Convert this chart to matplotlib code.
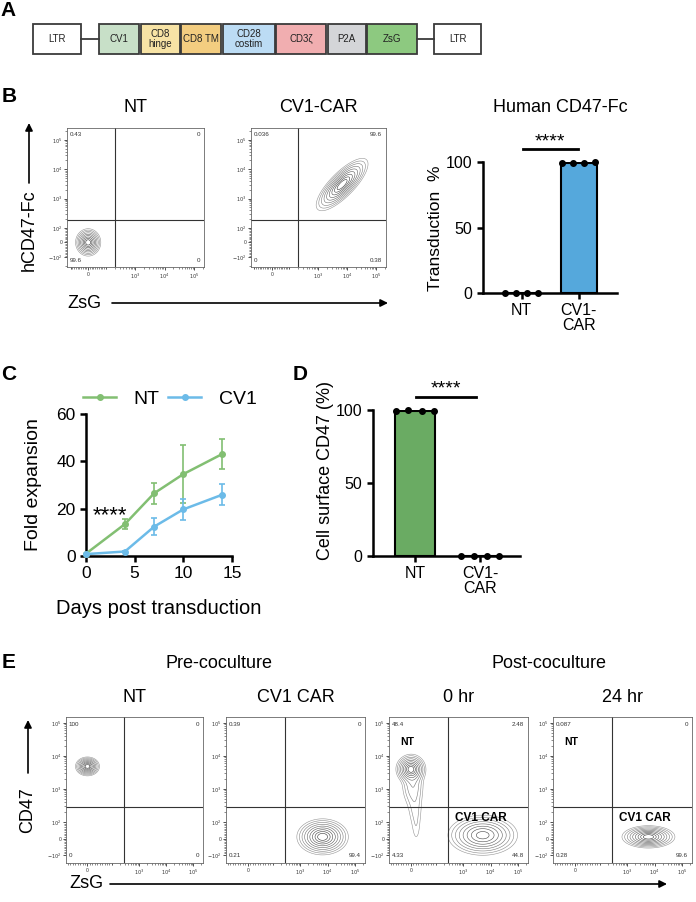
import numpy as np
import matplotlib
matplotlib.use("Agg")
import matplotlib.pyplot as plt
from matplotlib.scale import SymmetricalLogTransform
from matplotlib.patches import Rectangle
from matplotlib.lines import Line2D

plt.rcParams['font.family'] = ['Liberation Sans', 'DejaVu Sans']

# ---------------- data ----------------
construct_parts = ['LTR', 'CV1', 'CD8\nhinge', 'CD8 TM', 'CD28\ncostim', 'CD3ζ', 'P2A', 'ZsG', 'LTR']

bar_groups = ['NT', 'CV1-\nCAR']
transduction_pts = [[0.1, 0.2, 0.1, 0.2], [99.6, 99.5, 99.6, 99.7]]
cd47_pts = [[99.6, 99.7, 99.5, 99.6], [0.2, 0.1, 0.3, 0.2]]

days = [0, 4, 7, 10, 14]
nt_fold = [1.0, 13.5, 26.5, 34.6, 43.1]
nt_err = [0.0, 2.3, 4.4, 12.4, 6.3]
cv1_fold = [0.8, 1.9, 12.4, 19.7, 25.9]
cv1_err = [0.0, 0.4, 3.6, 4.4, 4.5]

flowB_titles = ['NT', 'CV1-CAR']
flowE_titles = ['NT', 'CV1 CAR', '0 hr', '24 hr']
# quadrant percentages: upper-left, upper-right, lower-left, lower-right
flowB_quads = [['0.43', '0', '99.6', '0'], ['0.036', '99.6', '0', '0.38']]
flowE_quads = [['100', '0', '0', '0'], ['0.39', '0', '0.21', '99.4'],
               ['48.4', '2.48', '4.33', '44.8'], ['0.087', '0', '0.28', '99.6']]
# populations: (x centre, y centre, x spread [decades], y spread [decades], angle, weight)
flowB_pops = [
    [(0, 0, 0.165, 0.18, 0, 1.0)],
    [(6700, 3000, 0.46, 0.16, 45, 1.0)],
]
flowE_pops = [
    [(0, 4800, 0.17, 0.11, 0, 1.0)],
    [(6600, 10, 0.36, 0.21, 0, 1.0)],
    [(0, 4000, 0.21, 0.17, 0, 1.0), (8, 1400, 0.2, 0.35, 0, 0.2),
     (18, 250, 0.15, 0.35, 0, 0.08), (22, 60, 0.1, 0.3, 0, 0.045),
     (5200, 20, 0.5, 0.24, 0, 0.9)],
    [(6000, 10, 0.37, 0.13, 0, 1.0)],
]
flow_gate_B = (200, 190)
flow_gate_E = (290, 280)

# ---------------- figure ----------------
W, H = 696, 902
fig = plt.figure(figsize=(W / 100, H / 100), dpi=100)


def px_axes(l, t, r, b):
    return fig.add_axes([l / W, 1 - b / H, (r - l) / W, (b - t) / H])


def flow(ax, xs, ys, xlim, ylim, pops, gate, quads):
    ax.set_xscale('symlog', base=10, linthresh=xs[0], linscale=xs[1])
    ax.set_yscale('symlog', base=10, linthresh=ys[0], linscale=ys[1])
    ax.set_xlim(xlim)
    ax.set_ylim(ylim)
    tx = SymmetricalLogTransform(10, xs[0], xs[1])
    ty = SymmetricalLogTransform(10, ys[0], ys[1])
    u = np.linspace(*tx.transform_non_affine(np.array(xlim, float)), 400)
    v = np.linspace(*ty.transform_non_affine(np.array(ylim, float)), 400)
    U, V = np.meshgrid(u, v)
    Z = np.zeros_like(U)
    for cx, cy, sx, sy, ang, w in pops:
        u0 = tx.transform_non_affine(np.array([cx], float))[0]
        v0 = ty.transform_non_affine(np.array([cy], float))[0]
        du = (U - u0) / xs[0]
        dv = (V - v0) / ys[0]
        a = np.deg2rad(ang)
        p = du * np.cos(a) + dv * np.sin(a)
        q = -du * np.sin(a) + dv * np.cos(a)
        Z += w * np.exp(-0.5 * ((p / sx) ** 2 + (q / sy) ** 2))
    X = tx.inverted().transform_non_affine(u)
    Y = ty.inverted().transform_non_affine(v)
    nlev = 9
    rr = np.linspace(2.6, 0.5, nlev)
    levels = Z.max() * np.exp(-0.5 * rr ** 2)
    cols = [str(c) for c in np.linspace(0.58, 0.2, nlev)]
    ax.contour(X, Y, Z, levels=levels, colors=cols, linewidths=0.4)
    ax.axvline(gate[0], color='#333333', lw=0.8)
    ax.axhline(gate[1], color='#333333', lw=0.8)
    for s in ax.spines.values():
        s.set_color('#666666')
        s.set_linewidth(0.6)
    ax.set_xticks([0, 1e3, 1e4, 1e5])
    ax.set_xticklabels(['0', '$10^3$', '$10^4$', '$10^5$'])
    ax.set_yticks([-100, 0, 100, 1e3, 1e4, 1e5])
    ax.set_yticklabels(['$-10^2$', '0', '$10^2$', '$10^3$', '$10^4$', '$10^5$'])
    minors = list(np.arange(-100, 101, 10))
    for d in [2, 3, 4, 5]:
        minors += [k * 10 ** d for k in range(1, 10)]
        minors += [-k * 10 ** d for k in range(1, 10)]
    mx = [m for m in minors if xlim[0] < m < xlim[1]]
    my = [m for m in minors if ylim[0] < m < ylim[1]]
    ax.set_xticks(mx, minor=True)
    ax.set_yticks(my, minor=True)
    ax.xaxis.set_minor_formatter(plt.NullFormatter())
    ax.yaxis.set_minor_formatter(plt.NullFormatter())
    ax.tick_params(which='major', length=2.2, width=0.6, labelsize=3.6, pad=1.2, colors='#333333')
    ax.tick_params(which='minor', length=1.2, width=0.4, colors='#333333')
    kw = dict(fontsize=4.5, color='#333333', transform=ax.transAxes)
    ax.text(0.02, 0.95, quads[0], ha='left', va='center', **kw)
    ax.text(0.97, 0.95, quads[1], ha='right', va='center', **kw)
    ax.text(0.02, 0.05, quads[2], ha='left', va='center', **kw)
    ax.text(0.97, 0.05, quads[3], ha='right', va='center', **kw)


# ---- panel B flow ----
B_boxes = [(67, 128, 204, 267), (251, 128, 386, 267)]
for i, bx in enumerate(B_boxes):
    ax = px_axes(*bx)
    flow(ax, (100, 0.54), (100, 0.45), (-132, 2.2e5), (-219, 2.57e5),
         flowB_pops[i], flow_gate_B, flowB_quads[i])

# ---- panel E flow ----
E_boxes = [(66, 717, 203, 863), (226, 717, 365, 863), (389, 717, 528, 863), (553, 717, 692, 863)]
E_axes = []
for i, bx in enumerate(E_boxes):
    ax = px_axes(*bx)
    flow(ax, (100, 0.81), (100, 0.45), (-88, 2.3e5), (-174, 1.5e5),
         flowE_pops[i], flow_gate_E, flowE_quads[i])
    E_axes.append(ax)
for ax in E_axes[2:]:
    ax.text(0.08, 0.83, 'NT', fontsize=7.5, fontweight='bold', transform=ax.transAxes, ha='left', va='center')
    ax.text(0.66, 0.31, 'CV1 CAR', fontsize=8.5, fontweight='bold', transform=ax.transAxes, ha='center', va='center')


def prism(ax):
    for s in ['top', 'right']:
        ax.spines[s].set_visible(False)
    for s in ['left', 'bottom']:
        ax.spines[s].set_linewidth(1.8)
    ax.tick_params(width=1.8, length=4.5, labelsize=11.5, pad=3)


offsets = np.array([-0.29, -0.1, 0.1, 0.29])

# ---- panel B bar ----
axb = px_axes(483, 162, 617, 293)
means_b = [np.mean(p) for p in transduction_pts]
axb.bar([0, 1], means_b, width=0.63, color=['white', '#55a8dc'], edgecolor='black', linewidth=1.5, zorder=2)
for i, pts in enumerate(transduction_pts):
    axb.plot(i + offsets, pts, 'o', color='black', ms=4, clip_on=False, zorder=5)
axb.set_xlim(-0.68, 1.67)
axb.set_ylim(0, 100)
axb.set_yticks([0, 50, 100])
axb.set_xticks([0, 1])
axb.set_xticklabels(bar_groups, fontsize=13, linespacing=1.0)
prism(axb)
axb.plot([0.03, 0.98], [110, 110], color='black', lw=2, clip_on=False)
axb.text(0.5, 111.5, '****', ha='center', va='baseline', fontsize=14, clip_on=False)

# ---- panel D bar ----
axd = px_axes(373, 410, 520, 556)
means_d = [np.mean(p) for p in cd47_pts]
axd.bar([0, 1], means_d, width=0.62, color=['#6aab63', 'white'], edgecolor='black', linewidth=1.5, zorder=2)
for i, pts in enumerate(cd47_pts):
    axd.plot(i + offsets, pts, 'o', color='black', ms=4, clip_on=False, zorder=5)
axd.set_xlim(-0.646, 1.615)
axd.set_ylim(0, 100)
axd.set_yticks([0, 50, 100])
axd.set_xticks([0, 1])
axd.set_xticklabels(bar_groups, fontsize=13, linespacing=1.0)
prism(axd)
axd.plot([0.015, 0.94], [109, 109], color='black', lw=2, clip_on=False)
axd.text(0.48, 111.5, '****', ha='center', va='baseline', fontsize=14, clip_on=False)

# ---- panel C ----
axc = px_axes(86, 414, 232, 556)
nt_col, cv_col = '#82bf72', '#6cbbe8'
axc.errorbar(days, nt_fold, yerr=nt_err, color=nt_col, lw=1.8, marker='o', ms=4,
             capsize=2.5, elinewidth=1.2, capthick=1.2, clip_on=False, zorder=3)
axc.errorbar(days, cv1_fold, yerr=cv1_err, color=cv_col, lw=1.8, marker='o', ms=4,
             capsize=2.5, elinewidth=1.2, capthick=1.2, clip_on=False, zorder=3)
axc.set_xlim(0, 15)
axc.set_ylim(0, 60)
axc.set_xticks([0, 5, 10, 15])
axc.set_yticks([0, 20, 40, 60])
prism(axc)
axc.tick_params(labelsize=12.5)
axc.text(2.47, 14.8, '****', ha='center', va='baseline', fontsize=16)
hnt = Line2D([], [], color=nt_col, lw=1.8, marker='o', ms=4)
hcv = Line2D([], [], color=cv_col, lw=1.8, marker='o', ms=4)
axc.legend([hnt, hcv], ['NT', 'CV1'], ncol=2, frameon=False, fontsize=14,
           loc='center left', bbox_to_anchor=(83 / W, 1 - 399 / H), bbox_transform=fig.transFigure,
           borderaxespad=0, borderpad=0, handlelength=1.7, handletextpad=0.9, columnspacing=0.45)

# ---------------- overlay (text, diagram, arrows) ----------------
ov = fig.add_axes([0, 0, 1, 1])
ov.set_xlim(0, W)
ov.set_ylim(H, 0)
ov.axis('off')
ov.patch.set_visible(False)

# panel A construct
part_w = [48, 40, 39, 40, 52, 50, 38, 50, 47]
part_gap = [18, 1.5, 1.5, 1.5, 1.5, 1.5, 1.5, 17]
part_col = ['white', '#c8e0c8', '#f7e3a5', '#f3cd80', '#bcdcf4', '#f1aeb0', '#d4d5d8', '#8dc980', 'white']
x0, yt, yb = 33, 24, 54
xs_parts = []
for i, (lab, w) in enumerate(zip(construct_parts, part_w)):
    xs_parts.append((x0, x0 + w))
    ov.add_patch(Rectangle((x0, yt), w, yb - yt, facecolor=part_col[i], edgecolor='#3a3a3a', lw=1.3))
    ov.text(x0 + w / 2, (yt + yb) / 2, lab, ha='center', va='center', fontsize=7, linespacing=1.05, color='#222222')
    if i < len(part_gap):
        x0 += w + part_gap[i]
ov.plot([xs_parts[0][1], xs_parts[1][0]], [39, 39], color='#3a3a3a', lw=1.3)
ov.plot([xs_parts[7][1], xs_parts[8][0]], [39, 39], color='#3a3a3a', lw=1.3)

# panel letters
for lab, (x, y) in zip('ABCDE', [(8, 11), (9, 97), (9, 375), (300, 375), (9, 662)]):
    ov.text(x, y, lab, fontsize=15, fontweight='bold', ha='center', va='center')

# B titles
ov.text(135.5, 107, flowB_titles[0], fontsize=13, ha='center', va='center')
ov.text(318, 107, flowB_titles[1], fontsize=13, ha='center', va='center')
ov.text(560, 108, 'Human CD47-Fc', fontsize=13, ha='center', va='center')
ov.text(435, 228, 'Transduction  %', fontsize=12.5, rotation=90, ha='center', va='center')

# B axis labels with arrows
ov.text(29, 230, 'hCD47-Fc', fontsize=13, rotation=90, ha='center', va='center')
ov.annotate('', xy=(29, 123), xytext=(29, 183),
            arrowprops=dict(arrowstyle='-|>', color='black', lw=1.2, mutation_scale=11, shrinkA=0, shrinkB=0))
ov.text(84, 303, 'ZsG', fontsize=13, ha='center', va='center')
ov.annotate('', xy=(388, 303), xytext=(112, 303),
            arrowprops=dict(arrowstyle='-|>', color='black', lw=1.2, mutation_scale=11, shrinkA=0, shrinkB=0))

# C labels
ov.text(33, 485, 'Fold expansion', fontsize=14, rotation=90, ha='center', va='center')
ov.text(159, 608, 'Days post transduction', fontsize=14.5, ha='center', va='center')

# D label
ov.text(326, 470, 'Cell surface CD47 (%)', fontsize=13, rotation=90, ha='center', va='center')

# E headers
ov.text(219, 663, 'Pre-coculture', fontsize=13, ha='center', va='center')
ov.text(549, 663, 'Post-coculture', fontsize=13, ha='center', va='center')
for bx, t in zip(E_boxes, flowE_titles):
    ov.text((bx[0] + bx[2]) / 2, 697, t, fontsize=13, ha='center', va='center')
ov.text(28, 810, 'CD47', fontsize=13, rotation=90, ha='center', va='center')
ov.annotate('', xy=(28, 720), xytext=(28, 773),
            arrowprops=dict(arrowstyle='-|>', color='black', lw=1.2, mutation_scale=11, shrinkA=0, shrinkB=0))
ov.text(86, 884, 'ZsG', fontsize=13, ha='center', va='center')
ov.annotate('', xy=(667, 884), xytext=(110, 884),
            arrowprops=dict(arrowstyle='-|>', color='black', lw=1.2, mutation_scale=11, shrinkA=0, shrinkB=0))

fig.savefig('out.png', dpi=100)
